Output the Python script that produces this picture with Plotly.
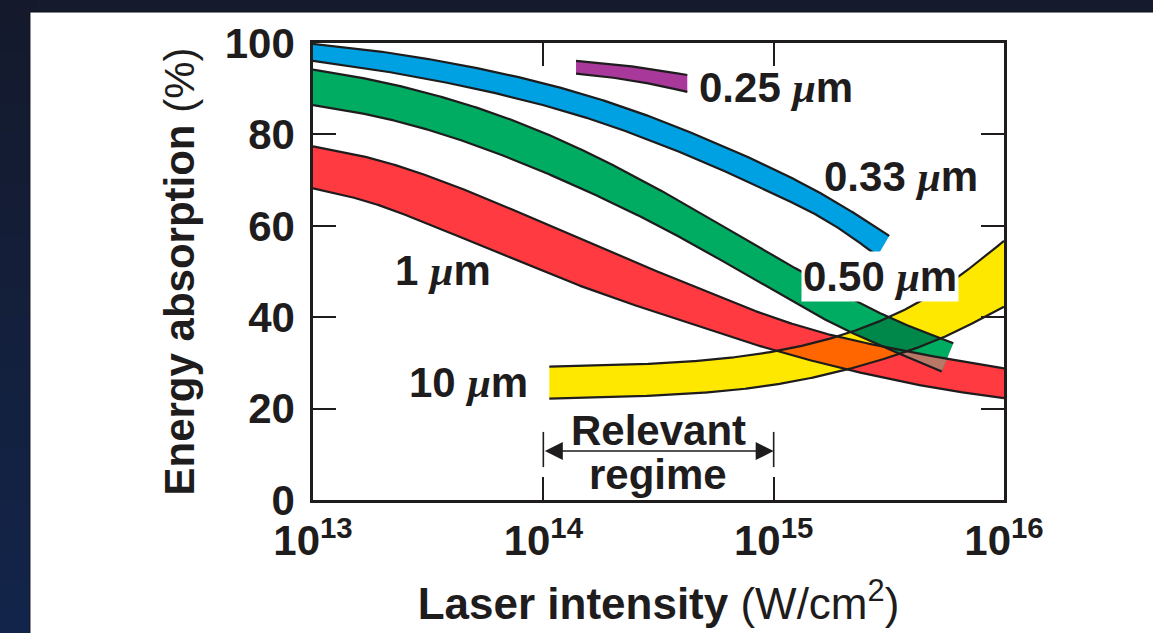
import numpy as np
import plotly.graph_objects as go

# ---------------- data ----------------
# x positions are log10 of laser intensity (W/cm^2)
blue_top_lx = [13.0, 13.25, 13.5, 13.75, 14.0, 14.25, 14.5, 14.75, 15.0, 15.25, 15.502]
blue_top = [99.8, 98.4, 96.5, 94.1, 91.2, 87.6, 83.2, 78.1, 72.4, 65.8, 57.8]
blue_bot_lx = [13.0, 13.25, 13.5, 13.75, 14.0, 14.25, 14.5, 14.75, 15.0, 15.25, 15.451]
blue_bot = [96.1, 94.3, 92.1, 89.5, 86.4, 82.6, 78.0, 72.8, 67.0, 60.5, 53.4]

green_top_lx = [13.0, 13.25, 13.5, 13.75, 14.0, 14.25, 14.5, 14.75, 15.0, 15.25, 15.5, 15.78]
green_top = [94.2, 92.0, 89.0, 85.2, 80.4, 74.6, 68.0, 60.8, 53.4, 46.4, 40.0, 34.3]
green_bot_lx = [13.0, 13.25, 13.5, 13.75, 14.0, 14.25, 14.5, 14.75, 15.0, 15.25, 15.5, 15.73]
green_bot = [86.4, 84.2, 81.0, 76.8, 71.8, 66.2, 60.0, 53.1, 45.8, 38.8, 33.0, 28.1]

red_lx = [13.0, 13.25, 13.5, 13.75, 14.0, 14.25, 14.5, 14.75, 15.0, 15.25, 15.5, 15.75, 16.0]
red_top = [77.4, 74.8, 70.9, 66.0, 60.6, 55.2, 49.9, 44.7, 39.9, 36.1, 33.3, 30.9, 28.8]
red_bot = [68.2, 65.1, 60.4, 55.2, 50.0, 45.2, 40.9, 36.7, 32.8, 29.4, 26.5, 24.1, 22.3]

yellow_lx = [14.026, 14.25, 14.5, 14.75, 15.0, 15.25, 15.5, 15.75, 16.0]
yellow_top = [29.2, 29.4, 29.9, 30.8, 32.5, 35.4, 40.0, 47.0, 56.7]
yellow_bot = [22.2, 22.4, 22.9, 23.7, 25.2, 27.7, 31.2, 35.9, 42.3]

purple_lx = [14.142, 14.303, 14.463, 14.625]
purple_top = [96.1, 95.4, 94.3, 93.0]
purple_bot = [93.3, 92.4, 91.1, 89.3]

x_tick_exponents = [13, 14, 15, 16]
y_ticks = [0, 20, 40, 60, 80, 100]
regime_bounds = [1e14, 1e15]

# ---------------- styling ----------------
FONT = "Liberation Sans, Arial, Helvetica, sans-serif"
INK = "#1e1c1c"
C_BLUE = "#00A1E2"
C_GREEN = "#00AC62"
C_RED = "#FF3A40"
C_YELLOW = "#FFE800"
C_PURPLE = "#A8399A"
C_RY = "#FF6600"
C_GR = "#B87867"
C_GY = "#00874A"
MU = "<i><span style=\"font-family:'Liberation Serif'\">μ</span></i>"


def spline(xk, yk, xq):
    """Natural cubic spline through the read points (smooth drawing)."""
    xk = np.asarray(xk, float)
    yk = np.asarray(yk, float)
    xq = np.asarray(xq, float)
    n = len(xk)
    h = np.diff(xk)
    if n < 3:
        return np.interp(xq, xk, yk)
    A = np.zeros((n, n))
    r = np.zeros(n)
    A[0, 0] = 1.0
    A[-1, -1] = 1.0
    for i in range(1, n - 1):
        A[i, i - 1] = h[i - 1]
        A[i, i] = 2 * (h[i - 1] + h[i])
        A[i, i + 1] = h[i]
        r[i] = 6 * ((yk[i + 1] - yk[i]) / h[i] - (yk[i] - yk[i - 1]) / h[i - 1])
    M = np.linalg.solve(A, r)
    idx = np.clip(np.searchsorted(xk, xq) - 1, 0, n - 2)
    x0, x1 = xk[idx], xk[idx + 1]
    hh = x1 - x0
    a = (x1 - xq) / hh
    b = (xq - x0) / hh
    return (a * yk[idx] + b * yk[idx + 1]
            + ((a**3 - a) * M[idx] + (b**3 - b) * M[idx + 1]) * hh**2 / 6)


def band(top_lx, top, bot_lx, bot, n=500):
    """Dense band geometry; bottom edge is closed by a straight cut to the top end."""
    g = np.linspace(top_lx[0], top_lx[-1], n)
    t = spline(top_lx, top, g)
    b = np.empty_like(g)
    inside = g <= bot_lx[-1]
    b[inside] = spline(bot_lx, bot, g[inside])
    if (~inside).any():
        frac = (g[~inside] - bot_lx[-1]) / (top_lx[-1] - bot_lx[-1])
        b[~inside] = bot[-1] + frac * (top[-1] - bot[-1])
    return {"g": g, "t": t, "b": b, "bot_end": bot_lx[-1]}


bands = {
    "red": band(red_lx, red_top, red_lx, red_bot),
    "green": band(green_top_lx, green_top, green_bot_lx, green_bot),
    "blue": band(blue_top_lx, blue_top, blue_bot_lx, blue_bot),
    "yellow": band(yellow_lx, yellow_top, yellow_lx, yellow_bot),
    "purple": band(purple_lx, purple_top, purple_lx, purple_bot),
}
colors = {"red": C_RED, "green": C_GREEN, "blue": C_BLUE, "yellow": C_YELLOW, "purple": C_PURPLE}

fig = go.Figure()

# band fills
for name in ["red", "green", "blue", "yellow", "purple"]:
    B = bands[name]
    xs = np.concatenate([B["g"], B["g"][::-1]])
    ys = np.concatenate([B["t"], B["b"][::-1]])
    fig.add_trace(go.Scatter(x=10**xs, y=ys, fill="toself", fillcolor=colors[name],
                             mode="lines", line=dict(width=0), hoverinfo="skip", showlegend=False))


# overlap fills
def overlap(a, b, color):
    A, Bb = bands[a], bands[b]
    lo_x = max(A["g"][0], Bb["g"][0])
    hi_x = min(A["g"][-1], Bb["g"][-1])
    g = np.linspace(lo_x, hi_x, 1500)
    at, ab = np.interp(g, A["g"], A["t"]), np.interp(g, A["g"], A["b"])
    bt, bb = np.interp(g, Bb["g"], Bb["t"]), np.interp(g, Bb["g"], Bb["b"])
    hi = np.minimum(at, bt)
    lo = np.maximum(ab, bb)
    mask = hi > lo
    if not mask.any():
        return
    idx = np.where(mask)[0]
    runs = np.split(idx, np.where(np.diff(idx) > 1)[0] + 1)
    for r in runs:
        if len(r) < 2:
            continue
        xs = np.concatenate([g[r], g[r][::-1]])
        ys = np.concatenate([hi[r], lo[r][::-1]])
        fig.add_trace(go.Scatter(x=10**xs, y=ys, fill="toself", fillcolor=color,
                                 mode="lines", line=dict(width=0), hoverinfo="skip",
                                 showlegend=False))


overlap("red", "yellow", C_RY)
overlap("green", "red", C_GR)
overlap("green", "yellow", C_GY)

# outlines (top and bottom edges only)
for name in ["red", "green", "blue", "yellow", "purple"]:
    B = bands[name]
    fig.add_trace(go.Scatter(x=10**B["g"], y=B["t"], mode="lines",
                             line=dict(color=INK, width=2.2), hoverinfo="skip", showlegend=False))
    m = B["g"] <= B["bot_end"] + 1e-9
    fig.add_trace(go.Scatter(x=10**B["g"][m], y=B["b"][m], mode="lines",
                             line=dict(color=INK, width=2.2), hoverinfo="skip", showlegend=False))

# relevant regime bars
for xb in regime_bounds:
    fig.add_trace(go.Scatter(x=[xb, xb], y=[7.2, 14.9], mode="lines",
                             line=dict(color=INK, width=1.6), hoverinfo="skip", showlegend=False))

lab_font = dict(family=FONT, size=42, color=INK, weight="bold")
annotations = [
    dict(x=14.667, y=90.2, text="0.25 " + MU + "m", xanchor="left"),
    dict(x=15.210, y=70.7, text="0.33 " + MU + "m", xanchor="left"),
    dict(x=15.118, y=49.0, text="0.50 " + MU + "m", xanchor="left", bgcolor="white", borderpad=1),
    dict(x=13.347, y=50.3, text="1 " + MU + "m", xanchor="left"),
    dict(x=13.410, y=25.8, text="10 " + MU + "m", xanchor="left"),
    dict(x=14.502, y=15.3, text="Relevant", xanchor="center"),
    dict(x=14.498, y=5.6, text="regime", xanchor="center"),
]
for a in annotations:
    fig.add_annotation(xref="x", yref="y", showarrow=False, yanchor="middle",
                       font=lab_font, **a)

# double-headed arrow
fig.add_annotation(xref="x", yref="y", axref="x", ayref="y",
                   x=np.log10(regime_bounds[1]), y=10.7, ax=np.log10(regime_bounds[0]), ay=10.7,
                   text="", showarrow=True, arrowside="end+start", arrowhead=2,
                   arrowsize=2.4, arrowwidth=1.5, arrowcolor=INK, standoff=0, startstandoff=0)

tick_font = dict(family=FONT, size=42, color=INK, weight="bold")

# background: dark navy frame with a slight vertical gradient, white panel on top
bg_shapes = []
n_strips = 24
top_rgb = np.array([21, 26, 44])
bot_rgb = np.array([19, 37, 75])
y_top, y_bot = 1.0945, -0.2911
for i in range(n_strips):
    f = (i + 0.5) / n_strips
    c = (top_rgb + (bot_rgb - top_rgb) * f).astype(int)
    y1 = y_top + (y_bot - y_top) * i / n_strips
    y0 = y_top + (y_bot - y_top) * (i + 1) / n_strips
    bg_shapes.append(dict(type="rect", xref="paper", yref="paper", x0=-0.46, x1=-0.40,
                          y0=y0 - 0.002, y1=y1 + 0.002, fillcolor="rgb(%d,%d,%d)" % tuple(c),
                          line=dict(width=0), layer="below"))
bg_shapes.append(dict(type="rect", xref="paper", yref="paper", x0=-0.4096, x1=1.25,
                      y0=-0.35, y1=1.0678, fillcolor="white",
                      line=dict(color="#0b0f1c", width=1), layer="below"))

fig.update_layout(
    width=1153, height=633,
    margin=dict(l=313, r=149, t=43, b=133, autoexpand=False),
    paper_bgcolor="#151a2c",
    plot_bgcolor="white",
    showlegend=False,
    shapes=bg_shapes,
    xaxis=dict(
        type="log", range=[13, 16],
        tickvals=[10**e for e in x_tick_exponents],
        ticktext=["10<sup>%d</sup>" % e for e in x_tick_exponents],
        ticks="inside", ticklen=23, tickwidth=2, tickcolor=INK,
        showline=True, linewidth=2.5, linecolor=INK, mirror="ticks",
        showgrid=False, zeroline=False, tickfont=tick_font, ticklabelstandoff=2,
        title=dict(text="<b>Laser intensity</b> (W/cm<sup>2</sup>)",
                   font=dict(family=FONT, size=44, color=INK), standoff=26),
    ),
    yaxis=dict(
        range=[0, 100], tickvals=y_ticks,
        ticks="inside", ticklen=23, tickwidth=2, tickcolor=INK,
        showline=True, linewidth=2.5, linecolor=INK, mirror="ticks",
        showgrid=False, zeroline=False, tickfont=tick_font, ticklabelstandoff=7,
        title=dict(text="<b>Energy absorption</b> (%)",
                   font=dict(family=FONT, size=42, color=INK), standoff=18),
    ),
)

fig.write_html("out.html", config={"displayModeBar": False},
               post_script="document.body.style.margin='0px';")
